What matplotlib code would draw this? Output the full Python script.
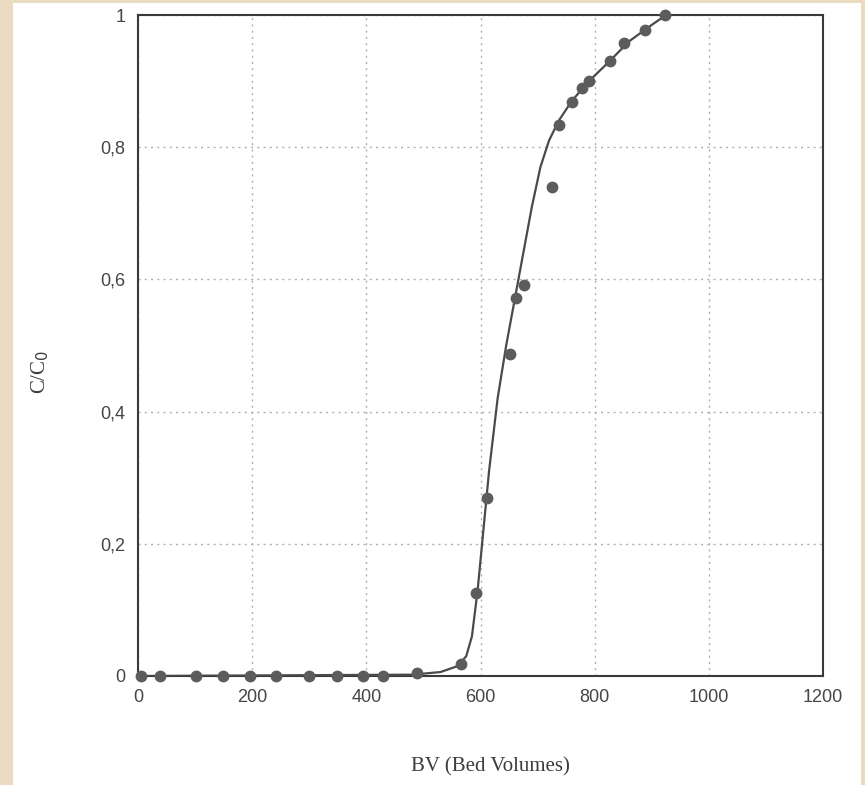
import matplotlib
matplotlib.use("Agg")
import matplotlib.pyplot as plt
from matplotlib.patches import Rectangle

# measured points (BV, C/C0)
bv_points = [6, 38, 101, 149, 196, 241, 300, 348, 395, 429, 489, 565,
             592, 612, 652, 662, 676, 725, 737, 760, 777, 790, 826, 852, 888, 923]
c_points = [0, 0, 0, 0, 0, 0, 0, 0, 0, 0, 0.005, 0.018,
            0.125, 0.27, 0.487, 0.572, 0.592, 0.74, 0.834, 0.869, 0.89, 0.90,
            0.931, 0.958, 0.977, 1.0]

# fitted curve
bv_curve = [0, 480, 530, 560, 575, 585, 595, 605, 615, 630, 645, 660, 675,
            690, 705, 720, 737, 760, 790, 826, 860, 900, 925]
c_curve = [0, 0.002, 0.006, 0.015, 0.03, 0.06, 0.13, 0.22, 0.31, 0.42, 0.5,
           0.57, 0.64, 0.71, 0.77, 0.81, 0.84, 0.87, 0.9, 0.93, 0.96, 0.985, 1.0]

x_ticks = [0, 200, 400, 600, 800, 1000, 1200]
y_ticks = [0, 0.2, 0.4, 0.6, 0.8, 1.0]
y_labels = ["0", "0,2", "0,4", "0,6", "0,8", "1"]

W, H = 865, 785
fig = plt.figure(figsize=(W / 100, H / 100), dpi=100, facecolor="#ebdcc1")
# white scanned page
fig.patches.append(Rectangle((13 / W, 0), (861 - 13) / W, (H - 3) / H,
                             transform=fig.transFigure, facecolor="white",
                             edgecolor="none", zorder=-5))

ax = fig.add_axes([138 / W, 1 - 676 / H, (823 - 138) / W, (676 - 15) / H])
ax.set_facecolor("white")

ax.plot(bv_curve, c_curve, color="#4a4a4a", lw=1.6, zorder=3)
ax.plot(bv_points, c_points, "o", color="#5c5c5c", markersize=8.5,
        markeredgewidth=0, zorder=4, clip_on=False)

ax.set_xlim(0, 1200)
ax.set_ylim(0, 1)
ax.set_xticks(x_ticks)
ax.set_yticks(y_ticks)
ax.set_yticklabels(y_labels)
ax.grid(True, linestyle=(0, (1.5, 3)), color="#b0b0b0", lw=1)
ax.set_axisbelow(True)
ax.tick_params(length=0, pad=9, labelsize=13, labelcolor="#454545")
for lab in ax.get_xticklabels() + ax.get_yticklabels():
    lab.set_family("Liberation Sans")
for s in ax.spines.values():
    s.set_color("#3a3a3a")
    s.set_linewidth(1.5)

fig.text(490 / W, 1 - 767 / H, "BV (Bed Volumes)", ha="center", va="center",
         family="Liberation Serif", fontsize=15, color="#3c3c3c")
fig.text(40 / W, 1 - 372 / H, "C/C$_0$", ha="center", va="center", rotation=90,
         family="Liberation Serif", fontsize=15, color="#3c3c3c")

fig.savefig("out.png", dpi=100, facecolor=fig.get_facecolor())
